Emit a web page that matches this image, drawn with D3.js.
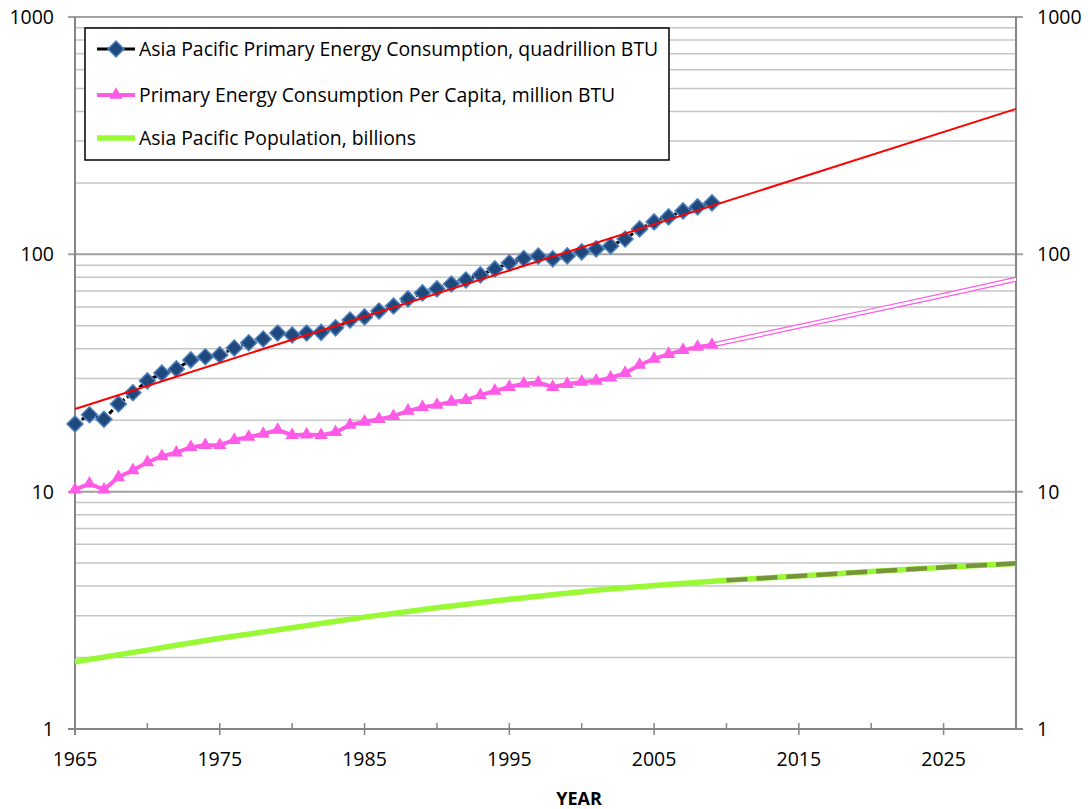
<!DOCTYPE html>
<html>
<head>
<meta charset="utf-8">
<script src="https://cdn.jsdelivr.net/npm/d3@7"></script>
<style>
  body { margin: 0; background: #ffffff; }
  svg { font-family: "Open Sans", sans-serif; }
</style>
</head>
<body>
<div id="chart"></div>
<script>
// years with measured data
var years = d3.range(1965, 2010);

// Asia Pacific primary energy consumption, quadrillion BTU
var energyValues = [
  19.3, 21.1, 20.2, 23.4, 26.1, 29.3, 31.6, 32.9, 35.9, 37.0,
  37.7, 40.3, 42.4, 44.0, 46.6, 45.7, 46.6, 46.9, 49.0, 52.9,
  54.5, 57.7, 60.6, 64.9, 68.8, 71.5, 75.0, 78.0, 81.9, 86.8,
  92.0, 96.0, 98.3, 95.7, 98.5, 102.4, 105.4, 108.5, 116.1, 128.0,
  137.0, 143.8, 152.4, 158.5, 164.8
];

// primary energy consumption per capita, million BTU
var perCapitaValues = [
  10.2, 10.8, 10.2, 11.5, 12.3, 13.3, 14.1, 14.6, 15.4, 15.7,
  15.7, 16.5, 17.0, 17.5, 18.2, 17.3, 17.4, 17.3, 17.8, 19.1,
  19.7, 20.2, 20.8, 21.9, 22.7, 23.2, 23.9, 24.3, 25.5, 26.6,
  27.6, 28.5, 28.8, 27.6, 28.4, 29.0, 29.3, 30.2, 31.6, 34.2,
  36.3, 38.0, 39.5, 40.7, 41.5
];

// exponential trend of energy consumption (ends of the line)
var trendYears = [1965, 2030];
var trendValues = [22.3, 410];

// projected per capita consumption
var perCapitaProjYears = [2009, 2015, 2020, 2025, 2030];
var perCapitaProjValues = [41.5, 49.7, 57.8, 67.2, 78.5];

// Asia Pacific population, billions
var popYears = [1965, 1970, 1975, 1980, 1985, 1990, 1995, 2000, 2005, 2010, 2015, 2020, 2025, 2030];
var popValues = [1.92, 2.15, 2.41, 2.67, 2.96, 3.24, 3.52, 3.79, 4.02, 4.23, 4.41, 4.61, 4.80, 4.99];
var popProjStart = 2010;

var xMajorTicks = [1965, 1975, 1985, 1995, 2005, 2015, 2025];
var xMinorTicks = [1970, 1980, 1990, 2000, 2010, 2020];
var yMajorTicks = [1, 10, 100, 1000];
var yMinorTicks = [];
[1, 10, 100].forEach(function (d) {
  for (var k = 2; k <= 9; k++) yMinorTicks.push(d * k);
});

var legendLabels = [
  "Asia Pacific Primary Energy Consumption, quadrillion BTU",
  "Primary Energy Consumption Per Capita, million BTU",
  "Asia Pacific Population, billions"
];

var W = 1088, H = 809;
var plotLeft = 75, plotRight = 1016, plotTop = 17, plotBottom = 729;

var svg = d3.select("#chart").append("svg")
  .attr("width", W)
  .attr("height", H);

var x = d3.scaleLinear().domain([1965, 2030]).range([plotLeft, plotRight]);
var y = d3.scaleLog().domain([1, 1000]).range([plotBottom, plotTop]);

// gridlines
svg.append("g").selectAll("line")
  .data(yMinorTicks)
  .enter().append("line")
  .attr("x1", plotLeft).attr("x2", plotRight)
  .attr("y1", function (d) { return y(d); })
  .attr("y2", function (d) { return y(d); })
  .attr("stroke", "#c6c6c6")
  .attr("stroke-width", 1.5);

svg.append("g").selectAll("line")
  .data([10, 100, 1000])
  .enter().append("line")
  .attr("x1", plotLeft - 7).attr("x2", plotRight + 7)
  .attr("y1", function (d) { return y(d); })
  .attr("y2", function (d) { return y(d); })
  .attr("stroke", "#a0a0a0")
  .attr("stroke-width", 2);

// axes
var axisColor = "#868686";
svg.append("line")
  .attr("x1", plotLeft).attr("x2", plotLeft)
  .attr("y1", plotTop).attr("y2", plotBottom + 6)
  .attr("stroke", axisColor).attr("stroke-width", 2);
svg.append("line")
  .attr("x1", plotRight).attr("x2", plotRight)
  .attr("y1", plotTop).attr("y2", plotBottom)
  .attr("stroke", axisColor).attr("stroke-width", 2);
svg.append("line")
  .attr("x1", plotLeft - 7).attr("x2", plotRight + 7)
  .attr("y1", plotBottom).attr("y2", plotBottom)
  .attr("stroke", axisColor).attr("stroke-width", 2);

svg.append("g").selectAll("line")
  .data(xMajorTicks)
  .enter().append("line")
  .attr("x1", function (d) { return x(d); })
  .attr("x2", function (d) { return x(d); })
  .attr("y1", plotBottom - 6).attr("y2", plotBottom + 6)
  .attr("stroke", axisColor).attr("stroke-width", 1.5);

svg.append("g").selectAll("line")
  .data(xMinorTicks)
  .enter().append("line")
  .attr("x1", function (d) { return x(d); })
  .attr("x2", function (d) { return x(d); })
  .attr("y1", plotBottom - 6).attr("y2", plotBottom)
  .attr("stroke", axisColor).attr("stroke-width", 1.5);

// tick labels
svg.append("g").selectAll("text")
  .data(xMajorTicks)
  .enter().append("text")
  .attr("x", function (d) { return x(d); })
  .attr("y", plotBottom + 37)
  .attr("text-anchor", "middle")
  .style("font-size", "19.5px")
  .text(function (d) { return d; });

svg.append("g").selectAll("text")
  .data(yMajorTicks)
  .enter().append("text")
  .attr("x", plotLeft - 21)
  .attr("y", function (d) { return y(d) + 7; })
  .attr("text-anchor", "end")
  .style("font-size", "19.5px")
  .text(function (d) { return d; });

svg.append("g").selectAll("text")
  .data(yMajorTicks)
  .enter().append("text")
  .attr("x", plotRight + 21)
  .attr("y", function (d) { return y(d) + 7; })
  .attr("text-anchor", "start")
  .style("font-size", "19.5px")
  .text(function (d) { return d; });

svg.append("text")
  .attr("x", 579)
  .attr("y", 805)
  .attr("text-anchor", "middle")
  .style("font-size", "18px")
  .style("font-weight", "bold")
  .text("YEAR");

var line = d3.line()
  .x(function (d) { return x(d[0]); })
  .y(function (d) { return y(d[1]); });

var smoothLine = d3.line()
  .curve(d3.curveMonotoneX)
  .x(function (d) { return x(d[0]); })
  .y(function (d) { return y(d[1]); });

// population, historical + projection
var popData = popYears.map(function (yr, i) { return [yr, popValues[i]]; });
svg.append("path")
  .datum(popData)
  .attr("fill", "none")
  .attr("stroke", "#99f935")
  .attr("stroke-width", 5.5)
  .attr("d", smoothLine);

svg.append("path")
  .datum(popData.filter(function (d) { return d[0] >= popProjStart; }))
  .attr("fill", "none")
  .attr("stroke", "#77933c")
  .attr("stroke-width", 4.5)
  .attr("stroke-dasharray", "21,9")
  .attr("d", smoothLine);

// per capita projection (double line)
var projData = perCapitaProjYears.map(function (yr, i) { return [yr, perCapitaProjValues[i]]; });
svg.append("path")
  .datum(projData)
  .attr("fill", "none")
  .attr("stroke", "#ff5be6")
  .attr("stroke-width", 5)
  .attr("d", line);
svg.append("path")
  .datum(projData)
  .attr("fill", "none")
  .attr("stroke", "#ffffff")
  .attr("stroke-width", 2.5)
  .attr("d", line);

// per capita series
var pcData = years.map(function (yr, i) { return [yr, perCapitaValues[i]]; });
svg.append("path")
  .datum(pcData)
  .attr("fill", "none")
  .attr("stroke", "#ff5be6")
  .attr("stroke-width", 4)
  .attr("d", line);

var triangle = d3.symbol().type(d3.symbolTriangle).size(78);
svg.append("g").selectAll("path")
  .data(pcData)
  .enter().append("path")
  .attr("d", triangle)
  .attr("transform", function (d) { return "translate(" + x(d[0]) + "," + y(d[1]) + ")"; })
  .attr("fill", "#ff5be6");

// energy consumption series
var enData = years.map(function (yr, i) { return [yr, energyValues[i]]; });
svg.append("path")
  .datum(enData)
  .attr("fill", "none")
  .attr("stroke", "#000000")
  .attr("stroke-width", 3)
  .attr("stroke-dasharray", "5,3")
  .attr("d", line);

var diamond = d3.symbol().type(d3.symbolSquare).size(128);
svg.append("g").selectAll("path")
  .data(enData)
  .enter().append("path")
  .attr("d", diamond)
  .attr("transform", function (d) { return "translate(" + x(d[0]) + "," + y(d[1]) + ") rotate(45)"; })
  .attr("fill", "#1f497d")
  .attr("stroke", "#4f81bd")
  .attr("stroke-width", 1.5);

// exponential trendline
svg.append("path")
  .datum(trendYears.map(function (yr, i) { return [yr, trendValues[i]]; }))
  .attr("fill", "none")
  .attr("stroke", "#ff0000")
  .attr("stroke-width", 2)
  .attr("d", line);

// legend
var legend = svg.append("g");
legend.append("rect")
  .attr("x", 85).attr("y", 28)
  .attr("width", 584).attr("height", 132)
  .attr("fill", "#ffffff")
  .attr("stroke", "#000000")
  .attr("stroke-width", 1.5);

var rowY = [49, 95, 138];
legend.append("line")
  .attr("x1", 97).attr("x2", 135).attr("y1", rowY[0]).attr("y2", rowY[0])
  .attr("stroke", "#000000").attr("stroke-width", 3);
legend.append("path")
  .attr("d", diamond)
  .attr("transform", "translate(116," + rowY[0] + ") rotate(45)")
  .attr("fill", "#1f497d")
  .attr("stroke", "#4f81bd")
  .attr("stroke-width", 1.5);

legend.append("line")
  .attr("x1", 97).attr("x2", 135).attr("y1", rowY[1]).attr("y2", rowY[1])
  .attr("stroke", "#ff5be6").attr("stroke-width", 4);
legend.append("path")
  .attr("d", triangle)
  .attr("transform", "translate(116," + rowY[1] + ")")
  .attr("fill", "#ff5be6");

legend.append("line")
  .attr("x1", 97).attr("x2", 135).attr("y1", rowY[2]).attr("y2", rowY[2])
  .attr("stroke", "#99f935").attr("stroke-width", 5.5);

legend.selectAll("text.leg")
  .data(legendLabels)
  .enter().append("text")
  .attr("class", "leg")
  .attr("x", 139)
  .attr("y", function (d, i) { return rowY[i] + 7; })
  .style("font-size", "19.4px")
  .text(function (d) { return d; });
</script>
</body>
</html>
